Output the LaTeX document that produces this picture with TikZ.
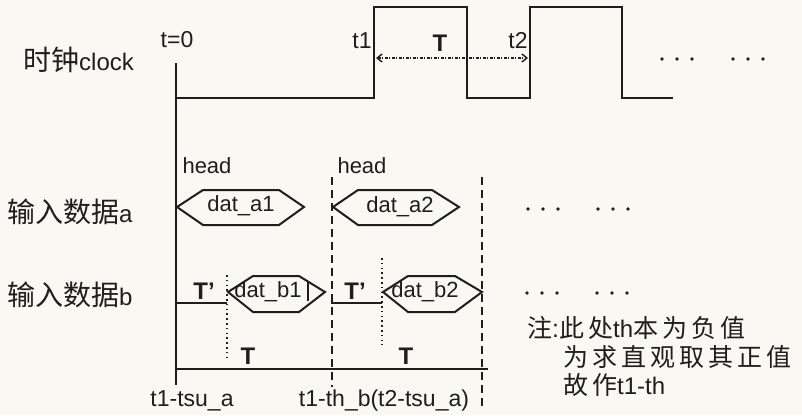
\documentclass[tikz,border=0pt]{standalone}
\usepackage{fontspec}
\setmainfont{Liberation Sans}
\newfontfamily\cjk{Noto Sans CJK SC}
\usetikzlibrary{arrows.meta}
\definecolor{ink}{HTML}{1E1E1E}
\definecolor{paper}{HTML}{FAF8F3}
\newcommand\gp{\hspace{4pt}}
\begin{document}
\begin{tikzpicture}[x=1pt,y=-1pt,
  wave/.style={ink, line width=2.4pt, line join=miter},
  hexa/.style={ink, line width=2pt, line join=miter},
  dashv/.style={ink, line width=2pt, dash pattern=on 8pt off 5pt},
  dotv/.style={ink, line width=1.6pt, dash pattern=on 1.6pt off 3.2pt},
  txt/.style={inner sep=0pt, text=ink, font=\fontsize{22}{24}\selectfont},
  bigt/.style={inner sep=0pt, text=ink, font=\fontsize{24}{26}\selectfont\bfseries},
  lab/.style={inner sep=0pt, text=ink, anchor=west, font=\fontsize{28}{30}\selectfont},
  note/.style={inner sep=0pt, text=ink, anchor=west, font=\fontsize{25}{27}\selectfont},
  dotn/.style={circle, fill=ink, inner sep=0pt, minimum size=3.8pt},
]
\fill[paper] (0,0) rectangle (802,415);
\useasboundingbox (0,0) rectangle (802,415);

% left labels
\node[lab] (lclk) at (23,60) {{\cjk 时钟}{\fontsize{24}{26}\selectfont clock}};
\node[lab] (la) at (7,212) {{\cjk 输入数据}{\fontsize{24}{26}\selectfont a}};
\node[lab] (lb) at (7,295) {{\cjk 输入数据}{\fontsize{24}{26}\selectfont b}};

% clock
\draw[wave] (176,63) -- (176,385);
\draw[wave] (176,98) -- (374,98) -- (374,7) -- (467,7) -- (467,98) -- (530,98) -- (530,7) -- (622,7) -- (622,98) -- (673,98);
\node[txt, font=\fontsize{23}{25}\selectfont] (t0) at (177,40) {t=0};
\node[txt, font=\fontsize{23}{25}\selectfont] (t1) at (362,41) {t1};
\node[txt, font=\fontsize{23}{25}\selectfont] (t2) at (518,41) {t2};
\node[bigt] (tT) at (440,43) {T};
\coordinate (t1e) at (376,58);
\coordinate (t2e) at (528,58);
\draw[ink, line width=1.4pt, dash pattern=on 3pt off 1.5pt on 1pt off 1.5pt,
  {Straight Barb[length=5pt,width=8pt]}-{Straight Barb[length=5pt,width=8pt]}] (t1e) -- (t2e);
\foreach \x [count=\i] in {662,677,692,733,748,763} \node[dotn] (cd\i) at (\x,59) {};

% row a
\node[txt] (h1) at (207,166) {head};
\node[txt] (h2) at (362,166) {head};
\draw[dashv] (332,177) -- (332,387);
\draw[dashv] (482,177) -- (482,410);
\draw[hexa] (177,207) -- (203,190) -- (279,190) -- (304,207) -- (279,225) -- (203,225) -- cycle;
\node[txt] (a1) at (241,206) {dat\_a1};
\draw[hexa] (333,207) -- (358,190) -- (432,190) -- (459,207) -- (432,225) -- (358,225) -- cycle;
\node[txt] (a2) at (400,207) {dat\_a2};
\foreach \x [count=\i] in {528,543,558,598,613,628} \node[dotn] (ad\i) at (\x,209) {};

% row b
\draw[hexa] (176,303) -- (227,303);
\draw[hexa] (332,295) -- (332,303) -- (382,303);
\draw[dotv] (227,275) -- (227,360);
\draw[dotv] (382,258) -- (382,345);
\node[bigt] (tp1) at (204,291) {T'};
\node[bigt] (tp2) at (355,291) {T'};
\draw[hexa] (228,292) -- (253,276) -- (299,276) -- (325,292) -- (299,312) -- (253,312) -- cycle;
\draw[hexa] (308,282) -- (308,301);
\node[txt] (b1) at (268,292) {dat\_b1};
\draw[hexa] (383,292) -- (408,276) -- (455,276) -- (482,292) -- (455,312) -- (408,312) -- cycle;
\node[txt] (b2) at (425,292) {dat\_b2};
\foreach \x [count=\i] in {527,542,557,597,612,627} \node[dotn] (bd\i) at (\x,293) {};

% bottom
\draw[wave] (176,369) -- (488,369);
\node[bigt] (T1) at (248,356) {T};
\node[bigt] (T2) at (406,356) {T};
\node[txt, font=\fontsize{23}{25}\selectfont] (bl1) at (192,401) {t1-tsu\_a};
\node[txt, font=\fontsize{23}{25}\selectfont] (bl2) at (384,401) {t1-th\_b(t2-tsu\_a)};

% note
\node[note] (n1) at (527,328) {{\cjk 注}:{\cjk 此\gp 处}{\fontsize{24}{26}\selectfont th}{\cjk 本\gp 为\gp 负\gp 值}};
\node[note] (n2) at (563,357) {\cjk 为\gp 求\gp 直\gp 观\gp 取\gp 其\gp 正\gp 值};
\node[note] (n3) at (563,385) {{\cjk 故\gp 作}{\fontsize{24}{26}\selectfont t1-th}};
\end{tikzpicture}
\end{document}
